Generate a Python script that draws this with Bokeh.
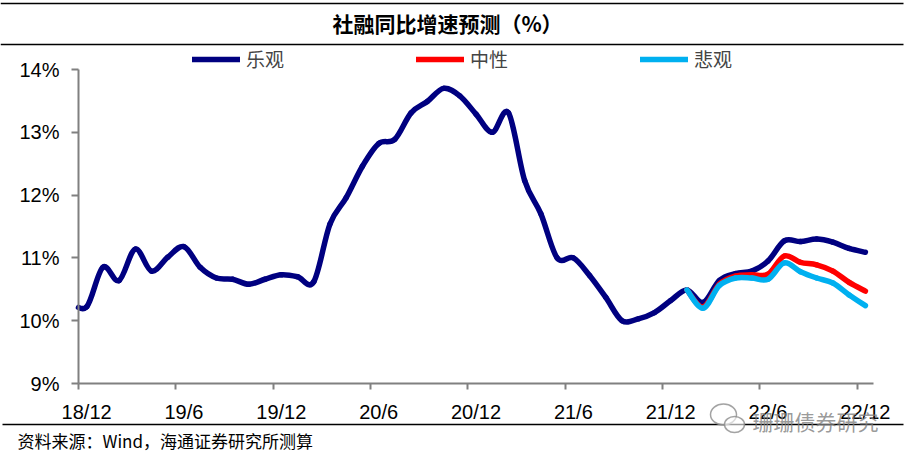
from bokeh.plotting import figure
from bokeh.models import (Range1d, FixedTicker, PrintfTickFormatter, Legend, LegendItem, Label)
from bokeh.embed import file_html
from bokeh.resources import INLINE

# ---------------- data ----------------
# month index: -1 = 2018/11, 0 = 2018/12 ... 48 = 2022/12
month_index = list(range(-1, 49))
optimistic = [10.30, 10.22, 10.85, 10.64, 11.14, 10.79, 11.01, 11.18, 10.85, 10.68,
              10.66, 10.58, 10.66, 10.73, 10.70, 10.62, 11.54, 11.96, 12.46, 12.82,
              12.89, 13.31, 13.49, 13.70, 13.58, 13.29, 13.00, 13.31, 12.23, 11.70,
              11.00, 11.00, 10.72, 10.37, 10.00, 10.03, 10.13, 10.32, 10.49, 10.29,
              10.64, 10.75, 10.79, 10.95, 11.27, 11.26, 11.30, 11.25, 11.15, 11.09]
forecast_index = list(range(37, 49))
neutral = [10.49, 10.22, 10.58, 10.71, 10.73, 10.74, 11.03, 10.93, 10.89, 10.79, 10.61, 10.47]
pessimistic = [10.49, 10.20, 10.56, 10.68, 10.68, 10.66, 10.92, 10.78, 10.68, 10.60, 10.41, 10.24]

series_names = ["乐观", "中性", "悲观"]
series_colors = ["#000080", "#FF0000", "#00B0F0"]

x_tick_index = [0, 6, 12, 18, 24, 30, 36, 42, 48]
x_tick_labels = ["18/12", "19/6", "19/12", "20/6", "20/12", "21/6", "21/12", "22/6", "22/12"]
y_ticks = [9, 10, 11, 12, 13, 14]

title_text = "社融同比增速预测（%）"
source_text = "资料来源：Wind，海通证券研究所测算"
watermark_text = "珊珊债券研究"

# ---------------- layout (pixel helpers) ----------------
W, H = 911, 459
X_MIN, X_MAX = 0, 49          # axis extent in months
Y_MIN, Y_MAX = 9, 14          # axis extent in %
PX_L, PX_R, PX_T, PX_B = 78, 873, 69, 383
SX = (PX_R - PX_L) / (X_MAX - X_MIN)
SY = (PX_B - PX_T) / (Y_MAX - Y_MIN)


def xd(px):
    return X_MIN + (px - PX_L) / SX


def yd(py):
    return Y_MAX - (py - PX_T) / SY


def lerp(a, b, t):
    return (a[0] + (b[0] - a[0]) * t, a[1] + (b[1] - a[1]) * t)


def bezier_parts(xs, ys, xmin):
    n = len(xs)
    out = dict(x0=[], y0=[], x1=[], y1=[], cx0=[], cy0=[], cx1=[], cy1=[])
    for i in range(n - 1):
        a = max(i - 1, 0)
        b = min(i + 2, n - 1)
        P0 = (xs[i], ys[i])
        P1 = (xs[i] + (xs[i + 1] - xs[a]) / 6, ys[i] + (ys[i + 1] - ys[a]) / 6)
        P2 = (xs[i + 1] - (xs[b] - xs[i]) / 6, ys[i + 1] - (ys[b] - ys[i]) / 6)
        P3 = (xs[i + 1], ys[i + 1])
        if P3[0] <= xmin:
            continue
        if P0[0] < xmin:
            lo, hi = 0.0, 1.0
            for _ in range(60):
                t = (lo + hi) / 2
                q = lerp(lerp(lerp(P0, P1, t), lerp(P1, P2, t), t),
                         lerp(lerp(P1, P2, t), lerp(P2, P3, t), t), t)
                if q[0] < xmin:
                    lo = t
                else:
                    hi = t
            t = (lo + hi) / 2
            P12 = lerp(P1, P2, t)
            P23 = lerp(P2, P3, t)
            P123 = lerp(P12, P23, t)
            P0123 = lerp(lerp(lerp(P0, P1, t), P12, t), P123, t)
            P0, P1, P2 = P0123, P123, P23
        out["x0"].append(P0[0]); out["y0"].append(P0[1])
        out["cx0"].append(P1[0]); out["cy0"].append(P1[1])
        out["cx1"].append(P2[0]); out["cy1"].append(P2[1])
        out["x1"].append(P3[0]); out["y1"].append(P3[1])
    return out


p = figure(width=W, height=H, x_range=Range1d(xd(0), xd(W)), y_range=Range1d(yd(H), yd(0)),
           output_backend="svg", toolbar_location=None,
           min_border_left=0, min_border_right=0, min_border_top=0, min_border_bottom=0)
p.outline_line_color = None
p.xgrid.grid_line_color = None
p.ygrid.grid_line_color = None
p.background_fill_color = "white"
p.border_fill_color = "white"

# rules
for py, x_from in ((3, 0), (44, 0), (424, 2)):
    p.segment(x0=[xd(x_from)], y0=[yd(py)], x1=[xd(903)], y1=[yd(py)],
              line_color="black", line_width=1.5)

all_series = [
    ([m + 0.5 for m in month_index], optimistic),
    ([m + 0.5 for m in forecast_index], neutral),
    ([m + 0.5 for m in forecast_index], pessimistic),
]
items = []
for (xs, ys), name, color in zip(all_series, series_names, series_colors):
    seg = bezier_parts(xs, ys, X_MIN)
    r = p.bezier(x0="x0", y0="y0", x1="x1", y1="y1", cx0="cx0", cy0="cy0", cx1="cx1", cy1="cy1",
                 source=seg, line_color=color, line_width=5.5, line_cap="round")
    items.append(LegendItem(label=name, renderers=[r]))

# axes, drawn at fixed data locations
ax = p.xaxis[0]
ax.fixed_location = Y_MIN
ax.bounds = (X_MIN, X_MAX)
ax.ticker = FixedTicker(ticks=[i + 0.5 for i in x_tick_index], minor_ticks=x_tick_index)
ax.major_label_overrides = {i + 0.5: lab for i, lab in zip(x_tick_index, x_tick_labels)}
ax.major_tick_out = 0
ax.major_tick_in = 0
ax.minor_tick_out = 6
ax.minor_tick_in = 0
ax.minor_tick_line_color = "#808080"
ax.minor_tick_line_width = 2
ax.major_label_standoff = 11

ay = p.yaxis[0]
ay.fixed_location = X_MIN
ay.bounds = (Y_MIN, Y_MAX)
ay.ticker = FixedTicker(ticks=y_ticks)
ay.formatter = PrintfTickFormatter(format="%d%%")
ay.major_tick_out = 7
ay.major_tick_in = 0
ay.minor_tick_line_color = None
ay.major_label_standoff = 12
ay.major_tick_line_color = "#808080"
ay.major_tick_line_width = 2

for a in (ax, ay):
    a.axis_line_color = "#808080"
    a.axis_line_width = 2
    a.major_label_text_font = "Liberation Sans"
    a.major_label_text_font_size = "20px"
    a.major_label_text_color = "black"

legend = Legend(items=items, orientation="horizontal", location=(192, H - 72), spacing=132,
                glyph_width=48, glyph_height=18, label_height=18, label_standoff=6,
                padding=0, margin=0, border_line_color=None, background_fill_alpha=0,
                label_text_font="Noto Sans CJK SC", label_text_font_size="19px")
p.add_layout(legend)

# title, source, watermark
p.add_layout(Label(x=xd(447), y=yd(22), text=title_text, text_align="center",
                   text_baseline="middle", text_font="Noto Sans CJK SC",
                   text_font_size="21px", text_font_style="bold", text_color="black"))
p.add_layout(Label(x=xd(17), y=yd(440), text=source_text, text_align="left",
                   text_baseline="middle", text_font="Noto Sans CJK SC",
                   text_font_size="17px", text_color="black"))
p.ellipse(x=[xd(723), xd(734)], y=[yd(414), yd(424)], width=[26, 20], height=[21, 16],
          width_units="screen", height_units="screen", fill_color="white", fill_alpha=0.6,
          line_color="#8c8c8c", line_width=1.5, line_alpha=0.8)
p.add_layout(Label(x=xd(752), y=yd(420), text=watermark_text, text_align="left",
                   text_baseline="middle", text_font="Noto Sans CJK SC",
                   text_font_size="21px", text_color="#7f7f7f", text_alpha=0.8))

open("out.html", "w").write(file_html(p, INLINE))
